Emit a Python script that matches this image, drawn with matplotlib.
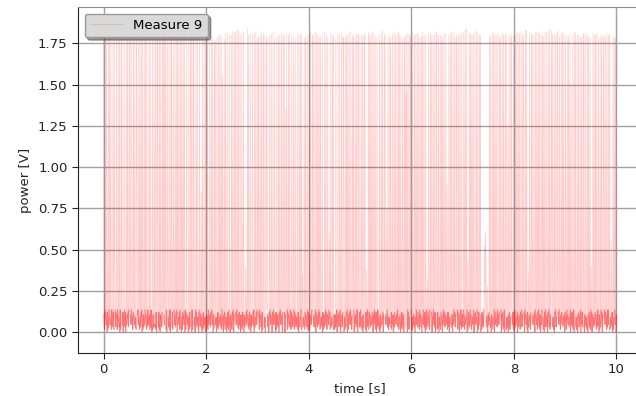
import numpy as np
import matplotlib
matplotlib.use("Agg")
import matplotlib.pyplot as plt

# ---- data (read/estimated from the reference) ----
# baseline noise, one digit per sample (0..9 -> 0.003 .. 0.134 V)
baseline_digits = (
    "071928360817290638192708163928071936280917263807192806371829"
    "180739261807392618279306172839081726390718293607182930617283"
    "291806372819073628190736281907362819073628109736281907362819"
    "360918273609182736091827360918273609182736091827360918273609"
    "072819360728193607281936072819360728193607281936072819360728"
    "183907261839072618390726183907261839072618390726183907261839"
    "260819372608193726081937260819372608193726081937260819372608"
    "391807263918072639180726391807263918072639180726391807263918"
    "081726390817263908172639081726390817263908172639081726390817"
    "172839061728390617283906172839061728390617283906172839061728"
    "293618072936180729361807293618072936180729361807293618072936"
    "370928163709281637092816370928163709281637092816370928163709"
    "061937280619372806193728061937280619372806193728061937280619"
    "182706391827063918270639182706391827063918270639182706391827"
    "290718362907183629071836290718362907183629071836290718362907"
    "381629073816290738162907381629073816290738162907381629073816"
    "092736180927361809273618092736180927361809273618092736180927"
    "170839261708392617083926170839261708392617083926170839261708"
    "261907382619073826190738261907382619073826190738261907382619"
    "380716293807162938071629380716293807162938071629380716293807"
)
t_start, t_end = 0.0, 10.0

spike_t = [
    0.00, 0.03, 0.09, 0.14, 0.18, 0.25, 0.31, 0.36, 0.40, 0.47, 0.52, 0.58, 0.61,
    0.68, 0.73, 0.79, 0.84, 0.88, 0.95, 1.01, 1.06, 1.12, 1.17, 1.21, 1.28, 1.33,
    1.39, 1.44, 1.50, 1.55, 1.58, 1.66, 1.71, 1.76, 1.83, 1.87, 1.93, 1.99,
    2.07, 2.13, 2.18, 2.24, 2.29, 2.35, 2.41, 2.45, 2.52, 2.57, 2.63, 2.69, 2.73,
    2.80, 2.86, 2.90, 2.97, 3.02, 3.08, 3.13, 3.19, 3.24, 3.30, 3.34, 3.41, 3.47,
    3.52, 3.57, 3.63, 3.70, 3.74, 3.81, 3.86, 3.91, 3.97,
    4.04, 4.09, 4.15, 4.20, 4.26, 4.31, 4.37, 4.43, 4.48, 4.53, 4.60, 4.64, 4.71,
    4.76, 4.82, 4.87, 4.93, 4.98,
    5.05, 5.10, 5.16, 5.21, 5.27, 5.33, 5.38, 5.44, 5.49, 5.55, 5.60, 5.66, 5.72,
    5.77, 5.83, 5.88, 5.94, 5.99,
    6.06, 6.11, 6.17, 6.22, 6.28, 6.34, 6.39, 6.45, 6.50, 6.56, 6.61, 6.67, 6.73,
    6.78, 6.84, 6.89, 6.95,
    7.02, 7.07, 7.13, 7.18, 7.24, 7.30, 7.35, 7.52, 7.58, 7.63, 7.69, 7.74, 7.80,
    7.85, 7.91, 7.96,
    8.03, 8.08, 8.14, 8.19, 8.25, 8.31, 8.36, 8.42, 8.47, 8.53, 8.58, 8.64, 8.70,
    8.75, 8.81, 8.86, 8.92, 8.97,
    9.04, 9.09, 9.15, 9.20, 9.26, 9.32, 9.37, 9.43, 9.48, 9.54, 9.59, 9.65, 9.71,
    9.76, 9.82, 9.87, 9.93, 9.98,
]
spike_v = [
    1.80, 1.81, 1.80, 1.79, 1.81, 1.80, 1.82, 1.79, 1.80, 1.81, 1.80, 1.79, 1.82,
    1.80, 1.81, 1.79, 1.80, 1.82, 1.80, 1.79, 1.81, 1.80, 1.80, 1.82, 1.79, 1.81,
    1.80, 1.79, 1.81, 1.80, 1.82, 1.80, 1.79, 1.81, 1.80, 1.79, 1.78, 1.76,
    1.77, 1.78, 1.76, 1.79, 1.80, 1.78, 1.81, 1.80, 1.82, 1.81, 1.83, 1.80, 1.82,
    1.84, 1.81, 1.80, 1.82, 1.79, 1.81, 1.80, 1.78, 1.80, 1.82, 1.79, 1.80, 1.81,
    1.79, 1.80, 1.82, 1.79, 1.78, 1.80, 1.81, 1.79, 1.80,
    1.82, 1.80, 1.81, 1.79, 1.80, 1.82, 1.79, 1.81, 1.80, 1.78, 1.80, 1.81, 1.79,
    1.80, 1.82, 1.79, 1.81, 1.80,
    1.79, 1.80, 1.82, 1.80, 1.81, 1.79, 1.80, 1.83, 1.81, 1.80, 1.79, 1.82, 1.81,
    1.80, 1.78, 1.80, 1.81, 1.79,
    1.80, 1.81, 1.79, 1.82, 1.80, 1.81, 1.79, 1.80, 1.82, 1.80, 1.79, 1.81, 1.80,
    1.82, 1.79, 1.80, 1.81,
    1.82, 1.84, 1.81, 1.80, 1.83, 1.81, 1.80, 1.79, 1.81, 1.80, 1.82, 1.79, 1.80,
    1.81, 1.80, 1.79,
    1.80, 1.81, 1.82, 1.80, 1.83, 1.81, 1.80, 1.82, 1.81, 1.80, 1.79, 1.82, 1.84,
    1.81, 1.80, 1.83, 1.81, 1.80,
    1.79, 1.81, 1.80, 1.82, 1.80, 1.79, 1.81, 1.80, 1.79, 1.81, 1.80, 1.78, 1.80,
    1.79, 1.81, 1.80, 1.79, 1.78,
]
# further full-height spikes in between
spike2_t = [
    0.06, 0.12, 0.21, 0.28, 0.34, 0.44, 0.50, 0.55, 0.64, 0.71,
    0.76, 0.82, 0.91, 0.98, 1.04, 1.09, 1.15, 1.19, 1.24, 1.31,
    1.36, 1.42, 1.47, 1.53, 1.62, 1.69, 1.74, 1.80, 1.96, 2.03,
    2.10, 2.16, 2.21, 2.27, 2.38, 2.49, 2.55, 2.60, 2.66, 2.83,
    2.94, 3.00, 3.05, 3.11, 3.17, 3.27, 3.38, 3.44, 3.50, 3.60,
    3.67, 3.78, 3.84, 3.94, 4.01, 4.07, 4.12, 4.18, 4.23, 4.34,
    4.46, 4.57, 4.67, 4.74, 4.79, 4.85, 4.90, 4.96, 5.02, 5.08,
    5.19, 5.24, 5.30, 5.41, 5.47, 5.58, 5.63, 5.69, 5.75, 5.80,
    5.86, 5.91, 5.97, 6.03, 6.09, 6.14, 6.20, 6.25, 6.37, 6.42,
    6.48, 6.53, 6.59, 6.64, 6.76, 6.81, 6.87, 6.92, 6.98, 7.05,
    7.16, 7.21, 7.27, 7.33, 7.55, 7.61, 7.66, 7.72, 7.77, 7.83,
    7.94, 8.00, 8.06, 8.11, 8.17, 8.22, 8.34, 8.39, 8.45, 8.50,
    8.56, 8.61, 8.67, 8.73, 8.78, 8.84, 8.89, 8.95, 9.01, 9.07,
    9.18, 9.23, 9.29, 9.35, 9.40, 9.46, 9.57, 9.62, 9.68, 9.74,
    9.79, 9.85, 9.96,
]
spike2_v = [
    1.80, 1.81, 1.79, 1.80, 1.82, 1.80, 1.79, 1.81, 1.80, 1.80,
    1.81, 1.79, 1.80, 1.82, 1.80, 1.81, 1.79, 1.80, 1.81, 1.80,
    1.79, 1.81, 1.80, 1.82, 1.80, 1.79, 1.80, 1.78, 1.77, 1.76,
    1.78, 1.77, 1.79, 1.80, 1.81, 1.80, 1.82, 1.83, 1.81, 1.80,
    1.81, 1.79, 1.80, 1.82, 1.80, 1.81, 1.79, 1.80, 1.81, 1.80,
    1.79, 1.81, 1.80, 1.79, 1.81, 1.80, 1.82, 1.80, 1.79, 1.81,
    1.80, 1.81, 1.79, 1.80, 1.82, 1.80, 1.79, 1.81, 1.80, 1.81,
    1.80, 1.82, 1.79, 1.81, 1.80, 1.79, 1.81, 1.80, 1.82, 1.80,
    1.79, 1.81, 1.80, 1.82, 1.80, 1.81, 1.79, 1.80, 1.81, 1.80,
    1.82, 1.80, 1.79, 1.81, 1.80, 1.82, 1.79, 1.80, 1.81, 1.83,
    1.81, 1.80, 1.82, 1.80, 1.79, 1.81, 1.80, 1.79, 1.81, 1.80,
    1.81, 1.80, 1.82, 1.81, 1.80, 1.83, 1.81, 1.80, 1.82, 1.81,
    1.80, 1.82, 1.81, 1.83, 1.80, 1.81, 1.79, 1.82, 1.80, 1.79,
    1.81, 1.80, 1.79, 1.81, 1.80, 1.79, 1.80, 1.81, 1.79, 1.80,
    1.79, 1.80, 1.79,
]
# partial-height excursions (incl. the bump near 7.45 s)
mid_t = [0.22, 0.65, 1.25, 1.90, 2.32, 2.77, 3.16, 3.55, 3.88, 4.40, 4.68, 5.13,
         5.52, 5.90, 6.31, 6.70, 7.10, 7.42, 7.43, 7.45, 7.46, 7.48, 7.88, 8.28,
         8.72, 9.12, 9.51, 9.90]
mid_v = [0.45, 1.20, 0.30, 0.85, 1.55, 0.40, 0.95, 1.35, 0.35, 0.60, 1.10, 0.38,
         0.75, 1.45, 0.32, 0.90, 0.42, 0.30, 0.52, 0.60, 0.45, 0.28, 1.25, 0.36,
         0.70, 1.50, 0.40, 0.55]

series_label = "Measure 9"
x_label = "time [s]"
y_label = "power [V]"
x_ticks = [0, 2, 4, 6, 8, 10]
y_ticks = [0.00, 0.25, 0.50, 0.75, 1.00, 1.25, 1.50, 1.75]

# ---- assemble series: baseline samples, spikes replace the nearest sample ----
v = np.array([0.003 + int(c) * 0.0146 for c in baseline_digits])
n = len(v)
t = np.linspace(t_start, t_end, n)
is_spike = np.zeros(n, dtype=bool)
events = (list(zip(spike_t, spike_v)) + list(zip(spike2_t, spike2_v))
          + list(zip(mid_t, mid_v)))
for ts, sv in events:
    idx = int(round((ts - t_start) / (t_end - t_start) * (n - 1)))
    v[idx] = sv
    is_spike[idx] = True
v_band = np.where(is_spike, np.nan, v)

# ---- plot ----
plt.rcParams["font.family"] = ["DejaVu Sans"]
fig = plt.figure(figsize=(6.36, 3.96), dpi=100)
ax = fig.add_axes([0.1226, 0.109, 0.887, 0.873])

# dense low-level band (overlapping samples) and the full trace
ax.plot(t, v_band, color="red", lw=0.8, ls="-", alpha=0.45)
ax.plot(t, v, color="red", lw=0.5, ls="-", alpha=0.2, label=series_label)

ax.set_xlim(-0.5, 10.5)
ax.set_ylim(-0.125, 1.97)
ax.set_xticks(x_ticks)
ax.set_yticks(y_ticks)
ax.set_yticklabels([f"{y:.2f}" for y in y_ticks])
ax.tick_params(labelsize=9.5, colors="#222222", length=4)
ax.set_xlabel(x_label, fontsize=9.5, color="#222222")
ax.set_ylabel(y_label, fontsize=9.5, color="#222222")
ax.grid(True, color="#a0a0a0", lw=1.0)
for s in ["top", "right"]:
    ax.spines[s].set_color("#909090")
for s in ["left", "bottom"]:
    ax.spines[s].set_color("#222222")

leg = ax.legend(loc="upper left", fontsize=9.5, fancybox=True, shadow=True,
                framealpha=1.0, facecolor="#d9d9d9", edgecolor="#999999",
                handlelength=2.5)

fig.savefig("out.png", dpi=100)
